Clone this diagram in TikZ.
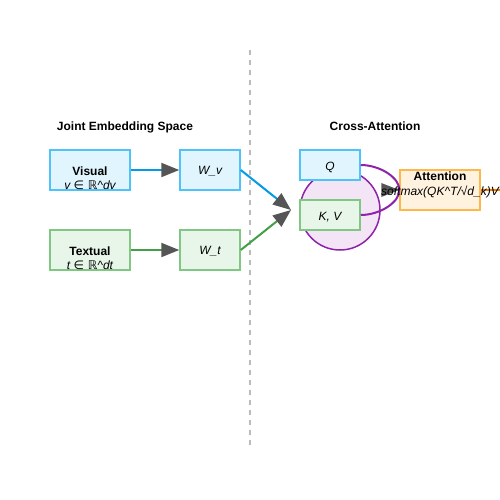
\documentclass[tikz,border=0pt]{standalone}
\usepackage{fontspec}
\setmainfont{Liberation Sans}
\newfontfamily\symfont{DejaVu Sans}
\usetikzlibrary{arrows.meta}
\definecolor{blueFill}{HTML}{E1F5FE}
\definecolor{blueEdge}{HTML}{4FC3F7}
\definecolor{blueLine}{HTML}{039BE5}
\definecolor{greenFill}{HTML}{E8F5E9}
\definecolor{greenEdge}{HTML}{81C784}
\definecolor{greenLine}{HTML}{43A047}
\definecolor{purpleFill}{HTML}{F3E5F5}
\definecolor{purpleEdge}{HTML}{8E24AA}
\definecolor{orangeFill}{HTML}{FFF3E0}
\definecolor{orangeEdge}{HTML}{FFB74D}
\definecolor{orangeLine}{HTML}{F57C00}
\definecolor{tipgray}{HTML}{555555}
\definecolor{divgray}{HTML}{BBBBBB}
\tikzset{
  box/.style={draw=#1Edge,fill=#1Fill,line width=1.5pt,minimum width=80pt,minimum height=40pt,inner sep=0pt},
  blue box/.style={box=blue},
  green box/.style={box=green},
  orange box/.style={box=orange},
  lbl/.style={anchor=base,inner sep=0pt,font=\fontsize{12}{14}\selectfont},
  title/.style={lbl,font=\fontsize{12}{14}\selectfont\bfseries},
  head/.style={-{Triangle[length=18pt,width=14pt,color=tipgray]}},
  every picture/.style={x=1pt,y=-1pt},
}
\begin{document}
\begin{tikzpicture}
  \useasboundingbox[fill=white] (0,0) rectangle (500,500);
  % divider between the two halves
  \draw[divgray,line width=1.5pt,dash pattern=on 5pt off 5pt] (250,50) -- (250,445);

  % left half: joint embedding space
  \node[title] (joint) at (125,130) {Joint Embedding Space};
  \node[blue box] (visual) at (90,170) {};
  \node[lbl,font=\fontsize{12}{14}\selectfont\bfseries] (visual-a) at (90,175) {Visual};
  \node[lbl,font=\fontsize{12}{14}\selectfont\itshape] (visual-b) at (90,189) {v {\symfont∈ ℝ}\textasciicircum dv};
  \node[blue box,minimum width=60pt] (wv) at (210,170) {};
  \node[lbl,font=\fontsize{12}{14}\selectfont\itshape] (wv-a) at (210,174) {W\_v};
  \node[green box] (textual) at (90,250) {};
  \node[lbl,font=\fontsize{12}{14}\selectfont\bfseries] (textual-a) at (90,255) {Textual};
  \node[lbl,font=\fontsize{12}{14}\selectfont\itshape] (textual-b) at (90,269) {t {\symfont∈ ℝ}\textasciicircum dt};
  \node[green box,minimum width=60pt] (wt) at (210,250) {};
  \node[lbl,font=\fontsize{12}{14}\selectfont\itshape] (wt-a) at (210,254) {W\_t};

  \draw[blueLine,line width=2pt,head] (visual) -- (wv);
  \draw[greenLine,line width=2pt,head] (textual) -- (wt);
  \coordinate (merge) at (291,210);
  \draw[blueLine,line width=2pt,head] (wv.east) -- (merge);
  \draw[greenLine,line width=2pt,head] (wt.east) -- (merge);

  % right half: cross attention
  \node[title] (cross) at (375,130) {Cross-Attention};
  \node[circle,draw=purpleEdge,fill=purpleFill,line width=1.5pt,minimum size=80pt,inner sep=0pt] (xattn) at (340,210) {};
  \node[blue box,minimum width=60pt,minimum height=30pt] (q) at (330,165) {};
  \node[lbl,font=\fontsize{12}{14}\selectfont\itshape] (q-a) at (330,170) {Q};
  \node[green box,minimum width=60pt,minimum height=30pt] (kv) at (330,215) {};
  \node[lbl,font=\fontsize{12}{14}\selectfont\itshape] (kv-a) at (330,220) {K, V};
  \node[orange box] (attn) at (440,190) {};
  \coordinate (exit) at (500,190);
  \draw[orangeLine,line width=2pt] (attn.east) -- (exit);
  \draw[purpleEdge,line width=2pt] (q.east) .. controls (380,165) and (400,178) .. (attn.west);
  \draw[purpleEdge,line width=2pt] (kv.east) .. controls (380,215) and (400,202) .. (attn.west);
  \fill[tipgray] (attn.west) -- ++(-18,-7) -- ++(0,14) -- cycle;
  \node[lbl,font=\fontsize{12}{14}\selectfont\bfseries] (attn-a) at (440,180) {Attention};
  \node[lbl,font=\fontsize{12}{14}\selectfont\itshape] (attn-b) at (440,195) {softmax(QK\textasciicircum T/√d\_k)V};
\end{tikzpicture}
\end{document}
